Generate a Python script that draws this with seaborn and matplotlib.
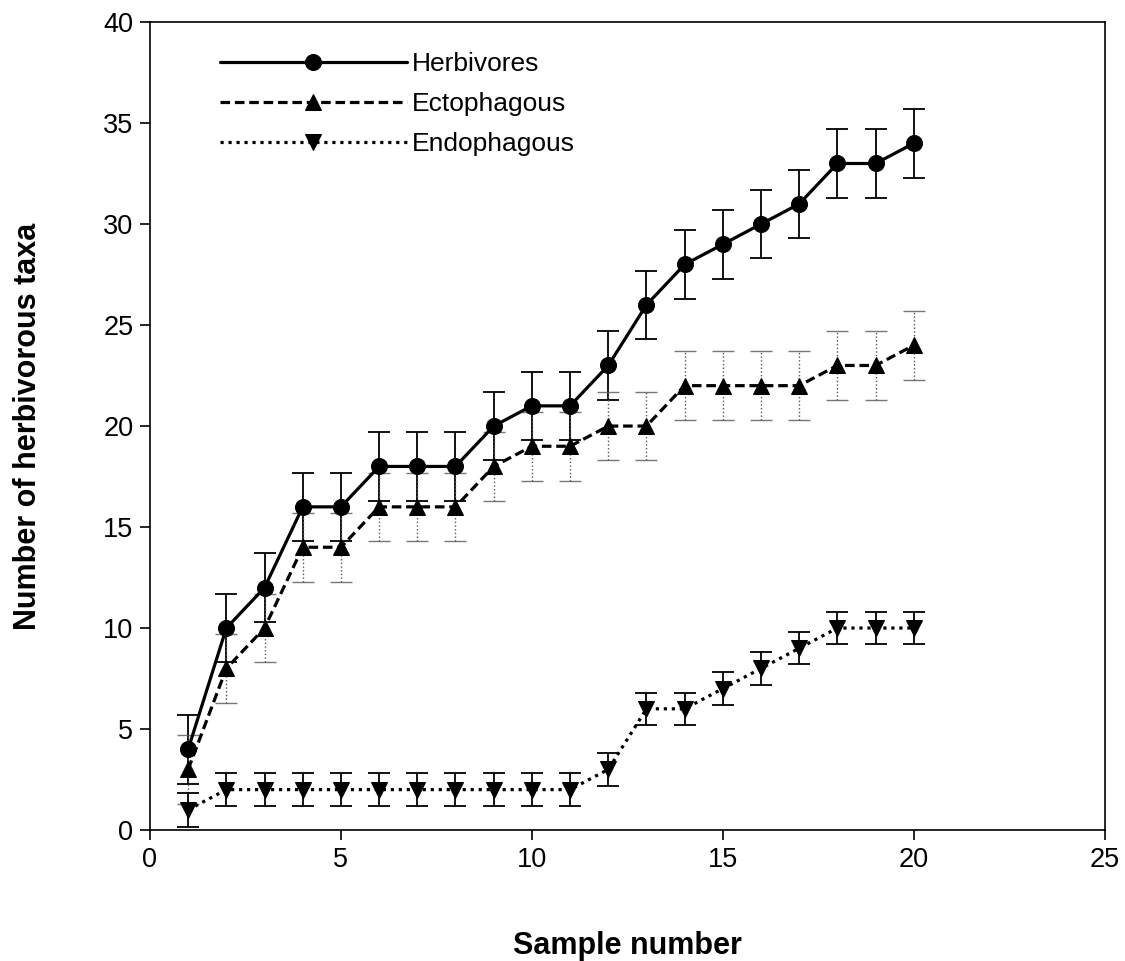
import numpy as np
import pandas as pd
import matplotlib
matplotlib.use("Agg")
import matplotlib.pyplot as plt
import seaborn as sns

samples = list(range(1, 21))
herbivores = [4, 10, 12, 16, 16, 18, 18, 18, 20, 21, 21, 23, 26, 28, 29, 30, 31, 33, 33, 34]
herb_err = [1.7] * 20
ectophagous = [3, 8, 10, 14, 14, 16, 16, 16, 18, 19, 19, 20, 20, 22, 22, 22, 22, 23, 23, 24]
ecto_err = [1.7] * 20
endophagous = [1, 2, 2, 2, 2, 2, 2, 2, 2, 2, 2, 3, 6, 6, 7, 8, 9, 10, 10, 10]
endo_err = [0.85] + [0.8] * 19

sns.set_style("ticks")
plt.rcParams['font.family'] = ['Liberation Sans', 'DejaVu Sans']
plt.rcParams['text.color'] = 'black'
plt.rcParams['axes.labelcolor'] = 'black'
plt.rcParams['xtick.color'] = 'black'
plt.rcParams['ytick.color'] = 'black'

df = pd.DataFrame({"sample": samples * 3,
                   "taxa": herbivores + ectophagous + endophagous,
                   "group": ["Herbivores"] * 20 + ["Ectophagous"] * 20 + ["Endophagous"] * 20})

fig = plt.figure(figsize=(11.25, 9.61), dpi=100)
ax = fig.add_axes([0.1333, 0.1363, 0.8487, 0.8407])

# error bars first
ax.errorbar(samples, herbivores, yerr=herb_err, fmt="none", ecolor="black", elinewidth=1.3, capsize=8, capthick=1.3)
eb = ax.errorbar(samples, ectophagous, yerr=ecto_err, fmt="none", ecolor="#555555", elinewidth=1.0, capsize=8, capthick=1.0)
for c in eb[2]:
    c.set_linestyle(":")
for c in eb[1]:
    c.set_alpha(0.8)
ax.errorbar(samples, endophagous, yerr=endo_err, fmt="none", ecolor="black", elinewidth=1.3, capsize=8, capthick=1.3)

sns.lineplot(data=df, x="sample", y="taxa", hue="group", style="group",
             palette={"Herbivores": "black", "Ectophagous": "black", "Endophagous": "black"},
             dashes={"Herbivores": "", "Ectophagous": (3, 1.5), "Endophagous": (1, 1.5)},
             markers={"Herbivores": "o", "Ectophagous": "^", "Endophagous": "v"},
             markersize=11.5, linewidth=2.3, markeredgecolor="black", ax=ax)

ax.set_xlim(0, 25)
ax.set_ylim(0, 40)
ax.set_xticks(range(0, 26, 5))
ax.set_yticks(range(0, 41, 5))
ax.tick_params(direction="out", length=7, width=1.2, labelsize=19.5, color="black", pad=5)
for s in ax.spines.values():
    s.set_visible(True)
    s.set_linewidth(1.2)
    s.set_color("black")

ax.set_xlabel("Sample number", fontsize=22, fontweight="bold", labelpad=0)
ax.set_ylabel("Number of herbivorous taxa", fontsize=22, fontweight="bold", labelpad=0)
ax.xaxis.set_label_coords(0.5, -0.125)
ax.yaxis.set_label_coords(-0.112, 0.5)

handles, labels = ax.get_legend_handles_labels()
ax.legend(handles, labels, loc="upper left", bbox_to_anchor=(0.048, 0.992), frameon=False,
          fontsize=19, handlelength=7.1, handletextpad=0.2, labelspacing=0.6)

fig.savefig("out.png", dpi=100)
